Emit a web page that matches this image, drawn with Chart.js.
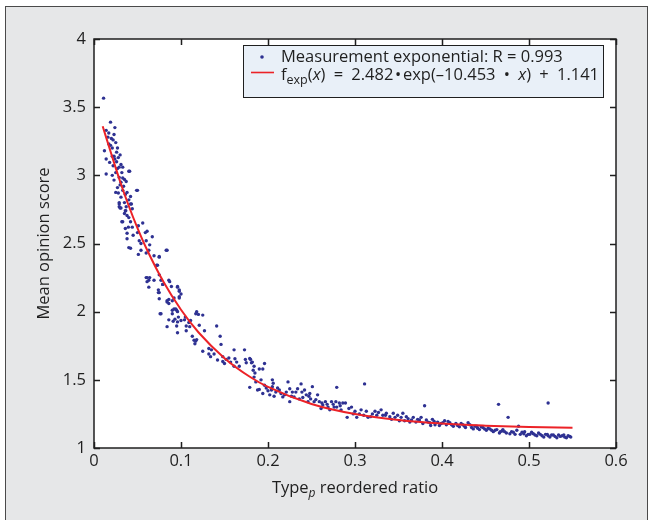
<!DOCTYPE html>
<html>
<head>
<meta charset="utf-8">
<script src="https://cdn.jsdelivr.net/npm/chart.js@4"></script>
<style>
  body { margin: 0; background: #fff; }
  #myChart { display: block; }
</style>
</head>
<body>
<canvas id="myChart" width="653" height="520"></canvas>
<script>
// measured MOS points [reordered ratio, score]
const measured = [
    // steep part, x < 0.05
    [0.011,3.566],[0.019,3.39],[0.014,3.33],[0.024,3.35],[0.017,3.31],[0.023,3.30],[0.020,3.27],[0.025,3.24],
    [0.017,3.23],[0.021,3.20],[0.012,3.18],[0.026,3.17],[0.023,3.14],[0.028,3.13],[0.014,3.12],[0.018,3.095],
    [0.024,3.12],[0.031,3.08],[0.022,3.07],[0.027,3.05],[0.033,3.06],[0.040,3.03],[0.014,3.01],[0.021,3.00],
    [0.029,2.985],[0.035,2.97],[0.023,2.965],[0.031,2.95],[0.037,2.955],[0.049,2.89],[0.027,2.91],[0.033,2.89],
    [0.025,2.875],[0.038,2.875],[0.042,2.845],[0.031,2.84],[0.029,2.79],[0.035,2.80],[0.043,2.79],[0.030,2.76],
    [0.037,2.77],[0.044,2.755],[0.026,3.10],[0.029,3.06],[0.032,3.02],[0.025,3.02],[0.030,2.93],[0.034,2.92],
    [0.036,2.86],[0.028,2.87],[0.040,2.82],[0.033,2.98],[0.021,3.14],[0.019,3.22],[0.022,3.26],[0.027,3.20],
    [0.030,3.15],[0.016,3.28],[0.041,3.03],[0.050,2.89],
    // 0.03 - 0.1
    [0.056,2.65],[0.061,2.59],[0.067,2.55],[0.083,2.45],[0.075,2.40],[0.072,2.34],[0.050,2.58],[0.040,2.47],
    [0.051,2.42],[0.045,2.56],[0.0395,2.62],[0.032,2.66],[0.040,2.69],[0.0365,2.74],[0.029,2.77],[0.044,2.62],
    [0.054,2.50],[0.060,2.52],[0.063,2.45],[0.069,2.41],[0.060,2.25],[0.064,2.25],[0.077,2.23],[0.086,2.23],
    [0.029,2.80],[0.031,2.76],[0.036,2.74],[0.035,2.72],[0.038,2.705],[0.042,2.79],[0.033,2.66],[0.042,2.66],
    [0.051,2.63],[0.036,2.61],[0.038,2.575],[0.059,2.58],[0.038,2.535],[0.052,2.52],[0.064,2.49],[0.042,2.465],
    [0.054,2.45],[0.060,2.43],[0.075,2.405],[0.084,2.45],[0.073,2.34],[0.061,2.25],[0.063,2.23],[0.061,2.22],
    [0.069,2.23],[0.079,2.20],[0.087,2.22],[0.063,2.18],[0.074,2.16],[0.074,2.14],[0.075,2.095],[0.084,2.08],
    [0.096,2.18],[0.098,2.16],[0.098,2.11],[0.086,2.06],[0.092,2.02],[0.095,2.01],[0.076,1.985],[0.090,1.985],
    [0.097,1.96],[0.105,1.96],[0.118,2.0],[0.120,1.98],
    // 0.075 - 0.2
    [0.075,2.27],[0.089,2.185],[0.096,2.185],[0.098,2.15],[0.100,2.13],[0.079,2.20],[0.075,2.14],[0.086,2.09],
    [0.084,2.07],[0.090,2.08],[0.092,2.10],[0.098,2.10],[0.077,1.985],[0.090,2.01],[0.094,2.02],[0.096,2.0],
    [0.086,1.94],[0.091,1.93],[0.093,1.945],[0.096,1.925],[0.100,1.935],[0.104,1.94],[0.111,1.935],[0.109,1.92],
    [0.084,1.89],[0.095,1.895],[0.106,1.895],[0.110,1.89],[0.096,1.845],[0.106,1.86],[0.117,1.985],[0.125,1.975],
    [0.121,1.90],[0.127,1.86],[0.113,1.82],[0.115,1.79],[0.117,1.785],[0.118,1.795],[0.116,1.765],[0.141,1.895],
    [0.145,1.82],[0.146,1.76],[0.125,1.71],[0.132,1.73],[0.135,1.72],[0.132,1.69],[0.138,1.69],[0.134,1.67],
    [0.142,1.645],[0.148,1.67],[0.152,1.65],[0.150,1.62],[0.161,1.72],[0.155,1.66],[0.157,1.63],[0.162,1.655],
    [0.164,1.63],[0.173,1.72],[0.174,1.65],[0.175,1.625],[0.180,1.65],[0.181,1.625],[0.184,1.60],[0.190,1.58],
    [0.196,1.62],[0.167,1.60],[0.161,1.60],[0.148,1.635],
    // 0.18 - 0.33
    [0.179,1.656],[0.182,1.63],[0.183,1.57],[0.194,1.58],[0.184,1.52],[0.186,1.485],[0.179,1.445],[0.188,1.425],
    [0.190,1.43],[0.196,1.46],[0.194,1.40],[0.202,1.39],[0.204,1.425],[0.205,1.50],[0.206,1.475],[0.205,1.45],
    [0.209,1.41],[0.207,1.38],[0.213,1.425],[0.215,1.40],[0.217,1.375],[0.221,1.41],[0.223,1.485],[0.225,1.435],
    [0.228,1.41],[0.225,1.34],[0.230,1.375],[0.232,1.41],[0.234,1.435],[0.238,1.47],[0.239,1.41],[0.236,1.36],
    [0.242,1.425],[0.244,1.39],[0.248,1.40],[0.249,1.36],[0.246,1.34],[0.251,1.45],[0.253,1.34],[0.257,1.39],
    [0.259,1.34],[0.263,1.315],[0.261,1.29],[0.266,1.34],[0.269,1.30],[0.271,1.28],[0.273,1.34],[0.275,1.32],
    [0.278,1.34],[0.279,1.445],[0.279,1.30],[0.282,1.33],[0.286,1.33],[0.289,1.33],[0.284,1.28],[0.291,1.225],
    [0.296,1.30],[0.300,1.27],[0.302,1.225],[0.307,1.28],[0.311,1.47],[0.313,1.27],[0.315,1.225],[0.318,1.23],
    [0.323,1.27],[0.327,1.26],[0.185,1.55],[0.192,1.50],[0.198,1.44],[0.200,1.42],[0.211,1.44],[0.219,1.39],
    [0.227,1.38],[0.240,1.37],[0.247,1.38],[0.255,1.355],[0.262,1.33],[0.268,1.32],[0.276,1.30],[0.283,1.31],
    [0.293,1.29],[0.298,1.25],[0.305,1.25],[0.310,1.24],[0.320,1.25],[0.325,1.24],
    // flat tail, x > 0.33
    [0.330,1.28],[0.332,1.24],[0.336,1.255],[0.340,1.23],[0.344,1.255],[0.346,1.225],[0.349,1.24],[0.353,1.225],
    [0.355,1.255],[0.357,1.20],[0.361,1.215],[0.365,1.205],[0.367,1.225],[0.370,1.19],[0.374,1.205],[0.376,1.225],
    [0.380,1.31],[0.378,1.18],[0.382,1.205],[0.386,1.185],[0.389,1.21],[0.392,1.17],[0.395,1.19],[0.399,1.18],
    [0.403,1.20],[0.405,1.17],[0.409,1.185],[0.413,1.16],[0.416,1.18],[0.420,1.155],[0.424,1.17],[0.427,1.15],
    [0.430,1.185],[0.434,1.15],[0.438,1.16],[0.441,1.145],[0.445,1.155],[0.449,1.14],[0.453,1.145],[0.457,1.13],
    [0.465,1.32],[0.463,1.135],[0.467,1.12],[0.470,1.135],[0.476,1.225],[0.474,1.11],[0.480,1.12],[0.484,1.10],
    [0.488,1.16],[0.486,1.13],[0.492,1.115],[0.495,1.12],[0.499,1.10],[0.503,1.115],[0.507,1.095],[0.511,1.11],
    [0.515,1.09],[0.519,1.10],[0.522,1.33],[0.522,1.09],[0.526,1.095],[0.530,1.085],[0.534,1.095],[0.538,1.09],
    [0.541,1.08],[0.545,1.09],[0.547,1.085],
    [0.335,1.24],[0.342,1.21],[0.351,1.20],[0.359,1.23],[0.363,1.19],[0.372,1.21],[0.384,1.19],[0.387,1.165],
    [0.391,1.195],[0.397,1.165],[0.401,1.185],[0.407,1.195],[0.411,1.17],[0.418,1.165],[0.422,1.18],[0.426,1.16],
    [0.432,1.17],[0.436,1.14],[0.440,1.16],[0.443,1.135],[0.447,1.15],[0.451,1.13],[0.455,1.14],[0.459,1.12],
    [0.461,1.13],[0.466,1.11],[0.469,1.125],[0.472,1.12],[0.478,1.105],[0.482,1.115],[0.490,1.10],[0.494,1.105],
    [0.497,1.09],[0.501,1.10],[0.505,1.105],[0.509,1.09],[0.513,1.10],[0.517,1.08],[0.521,1.10],[0.524,1.08],
    [0.528,1.095],[0.532,1.075],[0.536,1.085],[0.540,1.095],[0.543,1.075],[0.548,1.08]
];

// red fitted curve
const fitX = [0.01, 0.02, 0.03, 0.04, 0.05, 0.06, 0.08, 0.10, 0.12, 0.15, 0.18, 0.20, 0.25, 0.30, 0.35, 0.40, 0.45, 0.50, 0.55];
const fitY = [3.36, 3.155, 2.955, 2.775, 2.613, 2.467, 2.217, 2.014, 1.849, 1.659, 1.519, 1.448, 1.323, 1.249, 1.205, 1.179, 1.164, 1.154, 1.149];

const xTicks = [0, 0.1, 0.2, 0.3, 0.4, 0.5, 0.6];
const yTicks = [1, 1.5, 2, 2.5, 3, 3.5, 4];

const legendMeas = 'Measurement exponential: R = 0.993';
const xTitle = ['Type', 'p', ' reordered ratio'];
const yTitle = 'Mean opinion score';

const FONT = '"Open Sans", "Noto Sans", sans-serif';
const FS = 16.5;
const DOT = '#2e3192';
const RED = '#ec2227';
const INK = '#1f1f1f';

// background, frame, inward ticks, axis titles and legend
const decor = {
    id: 'decor',
    beforeDraw(chart) {
        const ctx = chart.ctx;
        const a = chart.chartArea;
        ctx.save();
        ctx.fillStyle = '#fff';
        ctx.fillRect(0, 0, chart.width, chart.height);
        ctx.fillStyle = '#e6e7e8';
        ctx.fillRect(5.5, 6.5, 642, 520);
        ctx.strokeStyle = '#4a4a4a';
        ctx.lineWidth = 1;
        ctx.strokeRect(5.5, 6.5, 642, 520);
        ctx.fillStyle = '#fff';
        ctx.fillRect(a.left, a.top, a.right - a.left, a.bottom - a.top);
        ctx.restore();
    },
    afterDraw(chart) {
        const ctx = chart.ctx;
        const a = chart.chartArea;
        const xs = chart.scales.x, ys = chart.scales.y;
        const tl = 6;
        ctx.save();
        ctx.strokeStyle = INK;
        ctx.lineWidth = 1.5;
        ctx.strokeRect(a.left, a.top, a.right - a.left, a.bottom - a.top);
        ctx.beginPath();
        xTicks.forEach(v => {
            const px = Math.round(xs.getPixelForValue(v)) + 0.5;
            ctx.moveTo(px, a.bottom); ctx.lineTo(px, a.bottom - tl);
            ctx.moveTo(px, a.top); ctx.lineTo(px, a.top + tl);
        });
        yTicks.forEach(v => {
            const py = Math.round(ys.getPixelForValue(v)) + 0.5;
            ctx.moveTo(a.left, py); ctx.lineTo(a.left + tl, py);
            ctx.moveTo(a.right, py); ctx.lineTo(a.right - tl, py);
        });
        ctx.stroke();

        // x title with subscript p
        ctx.fillStyle = INK;
        ctx.textBaseline = 'alphabetic';
        const f1 = FS + 'px ' + FONT, fsub = 'italic 12px ' + FONT;
        ctx.font = f1;
        const w0 = ctx.measureText(xTitle[0]).width, w2 = ctx.measureText(xTitle[2]).width;
        ctx.font = fsub;
        const w1 = ctx.measureText(xTitle[1]).width;
        let x = (a.left + a.right) / 2 - (w0 + w1 + w2) / 2;
        const by = 493;
        ctx.font = f1; ctx.fillText(xTitle[0], x, by); x += w0;
        ctx.font = fsub; ctx.fillText(xTitle[1], x, by + 4); x += w1;
        ctx.font = f1; ctx.fillText(xTitle[2], x, by);

        // y title
        ctx.save();
        ctx.translate(49, (a.top + a.bottom) / 2);
        ctx.rotate(-Math.PI / 2);
        ctx.textAlign = 'center';
        ctx.fillText(yTitle, 0, 0);
        ctx.restore();

        // legend box
        ctx.fillStyle = '#e9f0f8';
        ctx.fillRect(243.5, 45.5, 360, 52);
        ctx.strokeStyle = INK;
        ctx.lineWidth = 1;
        ctx.strokeRect(243.5, 45.5, 360, 52);
        ctx.fillStyle = DOT;
        ctx.beginPath();
        ctx.arc(262, 57, 1.8, 0, Math.PI * 2);
        ctx.fill();
        ctx.strokeStyle = RED;
        ctx.lineWidth = 1.6;
        ctx.beginPath();
        ctx.moveTo(251, 72.5); ctx.lineTo(274, 72.5);
        ctx.stroke();

        ctx.fillStyle = INK;
        ctx.font = f1;
        ctx.fillText(legendMeas, 281, 62);

        // f_exp(x) = 2.482•exp(−10.453 • x) + 1.141, with wider math spacing
        const it = 'italic ' + FS + 'px ' + FONT;
        const parts = [
            ['f', f1, 0], ['exp', '12.5px ' + FONT, 4], ['(', f1, 0], ['x', it, 0],
            [')\u2002=\u20022.482\u200a\u2022\u200aexp(\u201310.453\u2002\u2022\u2002', f1, 0], ['x', it, 0],
            [')\u2002+\u20021.141', f1, 0]
        ];
        let lx = 281;
        parts.forEach(p => {
            ctx.font = p[1];
            ctx.fillText(p[0], lx, 80 + p[2]);
            lx += ctx.measureText(p[0]).width;
        });
        ctx.restore();
    }
};

const config = {
    type: 'scatter',
    data: {
        datasets: [{
            label: 'fit',
            data: fitX.map((v, i) => ({ x: v, y: fitY[i] })),
            showLine: true,
            borderColor: RED,
            borderWidth: 2,
            pointRadius: 0,
            cubicInterpolationMode: 'monotone'
        }, {
            label: 'measured',
            data: measured.map(p => ({ x: p[0], y: p[1] })),
            pointRadius: 1.7,
            pointBackgroundColor: DOT,
            pointBorderWidth: 0
        }]
    },
    options: {
        responsive: false,
        animation: false,
        devicePixelRatio: 1,
        layout: { padding: { left: 0, top: 39, right: 37, bottom: 0 } },
        plugins: { legend: { display: false }, tooltip: { enabled: false }, title: { display: false } },
        scales: {
            x: {
                type: 'linear', min: 0, max: 0.6,
                afterFit: s => { s.height = 72; },
                afterBuildTicks: s => { s.ticks = xTicks.map(v => ({ value: v })); },
                grid: { display: false, drawTicks: false },
                border: { display: false },
                ticks: { padding: 3, color: INK, font: { family: FONT, size: FS }, callback: v => String(+v.toFixed(1)) }
            },
            y: {
                type: 'linear', min: 1, max: 4,
                afterFit: s => { s.width = 94; },
                afterBuildTicks: s => { s.ticks = yTicks.map(v => ({ value: v })); },
                grid: { display: false, drawTicks: false },
                border: { display: false },
                ticks: { padding: 8, color: INK, font: { family: FONT, size: FS }, callback: v => String(+v.toFixed(1)) }
            }
        }
    },
    plugins: [decor]
};

const ctx = document.getElementById('myChart').getContext('2d');
const myChart = new Chart(ctx, config);
</script>
</body>
</html>
